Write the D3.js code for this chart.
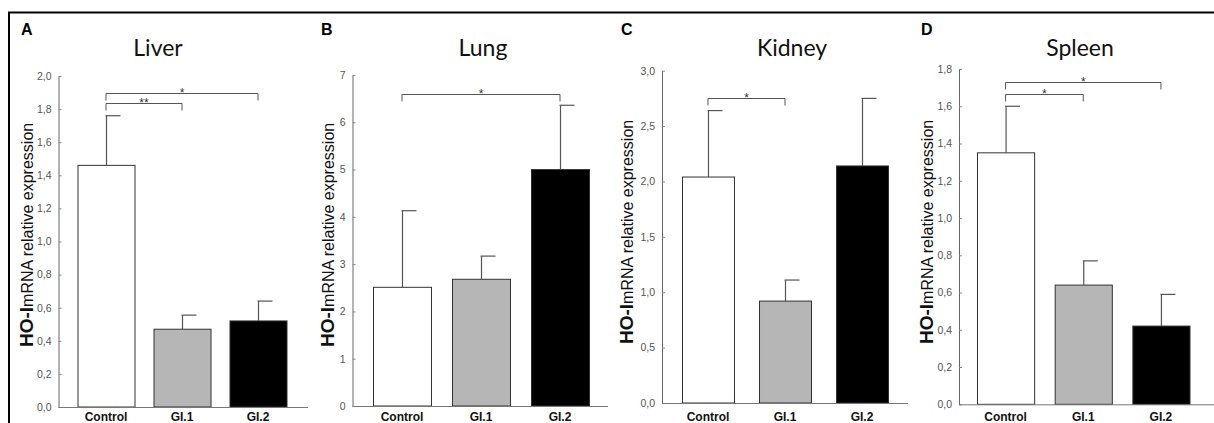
<!DOCTYPE html>
<html>
<head>
<meta charset="utf-8">
<script src="https://cdn.jsdelivr.net/npm/d3@7"></script>
<style>
  html, body { margin: 0; padding: 0; background: #fff; }
  svg { display: block; }
  text { font-family: "Liberation Sans", Arial, Helvetica, sans-serif; }
  .tick text { font-size: 10.5px; fill: #555; }
  .title { font-family: Lato, "Open Sans", sans-serif; }
</style>
</head>
<body>
<svg id="chart" width="1214" height="423"></svg>
<script>
/* HO-1 mRNA expression, four organs — bar panels A–D. */

const categories = ["Control", "GI.1", "GI.2"];
const fills = ["#ffffff", "#b6b6b6", "#000000"];

const liverMean = [1.46, 0.47, 0.52];
const liverErr = [0.30, 0.085, 0.12];
const lungMean = [2.51, 2.68, 5.0];
const lungErr = [1.62, 0.49, 1.36];
const kidneyMean = [2.04, 0.92, 2.14];
const kidneyErr = [0.60, 0.19, 0.61];
const spleenMean = [1.35, 0.64, 0.42];
const spleenErr = [0.25, 0.13, 0.17];

// significance brackets: [from, to, level, label]
const liverSig = [[0, 1, 1.834, "**"], [0, 2, 1.90, "*"]];
const lungSig = [[0, 2, 6.59, "*"]];
const kidneySig = [[0, 1, 2.755, "*"]];
const spleenSig = [[0, 1, 1.664, "*"], [0, 2, 1.728, "*"]];

const panelLetters = ["A", "B", "C", "D"];
const panelTitles = ["Liver", "Lung", "Kidney", "Spleen"];
const yMax = [2.0, 7, 3.0, 1.8];
const yStep = [0.2, 1, 0.5, 0.2];

// layout per panel (pixels)
const layout = [
  { letterX: 21,  titleX: 158,  axisX: 58.5,  y0: 407,   y1: 76,   band: [77.5, 286.5], pad: 0.25,  xEnd: 308,  labelX: 33,  labelY: 347 },
  { letterX: 321, titleX: 483,  axisX: 352.5, y0: 406,   y1: 75,   band: [373, 589],    pad: 0.266, xEnd: 608,  labelX: 334, labelY: 347 },
  { letterX: 621, titleX: 792,  axisX: 662,   y0: 403,   y1: 70.7, band: [682, 888],    pad: 0.325, xEnd: 908,  labelX: 633, labelY: 344 },
  { letterX: 921, titleX: 1080, axisX: 959,   y0: 404.3, y1: 69,   band: [977, 1189.5], pad: 0.2645, xEnd: 1214, labelX: 933, labelY: 344 }
];

const means = [liverMean, lungMean, kidneyMean, spleenMean];
const errs = [liverErr, lungErr, kidneyErr, spleenErr];
const sigs = [liverSig, lungSig, kidneySig, spleenSig];

const comma = d3.formatLocale({ decimal: ",", thousands: ".", grouping: [3], currency: ["", ""] });
const fmt1 = comma.format(".1f");

const svg = d3.select("#chart");

// outer frame (top + left edge)
svg.append("line").attr("x1", 8).attr("x2", 1214).attr("y1", 12.5).attr("y2", 12.5)
  .attr("stroke", "#000").attr("stroke-width", 2);
svg.append("line").attr("x1", 9).attr("x2", 9).attr("y1", 12).attr("y2", 423)
  .attr("stroke", "#000").attr("stroke-width", 2);

layout.forEach((L, i) => {
  const g = svg.append("g");
  const mean = means[i], err = errs[i];

  const y = d3.scaleLinear().domain([0, yMax[i]]).range([L.y0, L.y1]);
  const x = d3.scaleBand().domain(categories).range(L.band).paddingInner(L.pad).paddingOuter(0);

  // letter + title
  g.append("text").attr("x", L.letterX).attr("y", 35)
    .attr("font-weight", "bold").attr("font-size", 16).text(panelLetters[i]);
  g.append("text").attr("class", "title").attr("x", L.titleX).attr("y", 56).attr("text-anchor", "middle")
    .attr("font-size", 23).attr("fill", "#111").text(panelTitles[i]);

  // y axis label
  const lab = g.append("text")
    .attr("transform", `translate(${L.labelX},${L.labelY}) rotate(-90)`)
    .attr("fill", "#111");
  lab.append("tspan").attr("font-weight", "bold").attr("font-size", 19).text("HO-I");
  lab.append("tspan").attr("font-size", 16).text("mRNA relative expression");

  // y axis
  const ticks = d3.range(0, yMax[i] + 1e-9, yStep[i]);
  const yAxis = d3.axisLeft(y).tickValues(ticks)
    .tickFormat(yStep[i] >= 1 ? d3.format("d") : fmt1)
    .tickSizeInner(-3).tickSizeOuter(0);
  const ay = g.append("g").attr("transform", `translate(${L.axisX},0)`).call(yAxis);
  ay.select(".domain").attr("stroke", "#666");
  ay.selectAll(".tick line").attr("stroke", "#888");
  ay.selectAll(".tick text").attr("x", -7);

  // bars
  g.selectAll("rect.bar").data(mean).join("rect").attr("class", "bar")
    .attr("x", (d, j) => x(categories[j]) + 0.5)
    .attr("y", (d) => y(d))
    .attr("width", x.bandwidth())
    .attr("height", (d) => y(0) - y(d))
    .attr("fill", (d, j) => fills[j])
    .attr("stroke", "#333").attr("stroke-width", 1);

  // error bars (upper only, half cap)
  mean.forEach((m, j) => {
    const cx = x(categories[j]) + x.bandwidth() / 2 + 0.5;
    g.append("line").attr("x1", cx).attr("x2", cx).attr("y1", y(m)).attr("y2", y(m + err[j]))
      .attr("stroke", "#555").attr("stroke-width", 1.2);
    g.append("line").attr("x1", cx - 1).attr("x2", cx + 14).attr("y1", y(m + err[j])).attr("y2", y(m + err[j]))
      .attr("stroke", "#555").attr("stroke-width", 1.2);
  });

  // x axis
  g.append("line").attr("x1", L.axisX).attr("x2", L.xEnd).attr("y1", L.y0 + 0.5).attr("y2", L.y0 + 0.5)
    .attr("stroke", "#777").attr("stroke-width", 1);
  g.selectAll("text.cat").data(categories).join("text").attr("class", "cat")
    .attr("x", (d) => x(d) + x.bandwidth() / 2).attr("y", 421)
    .attr("text-anchor", "middle")
    .attr("font-weight", "bold").attr("font-size", 12).attr("fill", "#111").text((d) => d);

  // significance brackets
  sigs[i].forEach(([a, b, lvl, label]) => {
    const xa = x(categories[a]) + x.bandwidth() / 2;
    const xb = x(categories[b]) + x.bandwidth() / 2;
    const yy = Math.round(y(lvl)) + 0.5;
    g.append("path")
      .attr("d", `M${xa},${yy + 7}V${yy}H${xb}V${yy + 7}`)
      .attr("fill", "none").attr("stroke", "#555").attr("stroke-width", 1);
    g.append("text").attr("x", (xa + xb) / 2).attr("y", yy + 3).attr("text-anchor", "middle")
      .attr("font-size", 12).attr("fill", "#333").text(label);
  });
});
</script>
</body>
</html>
